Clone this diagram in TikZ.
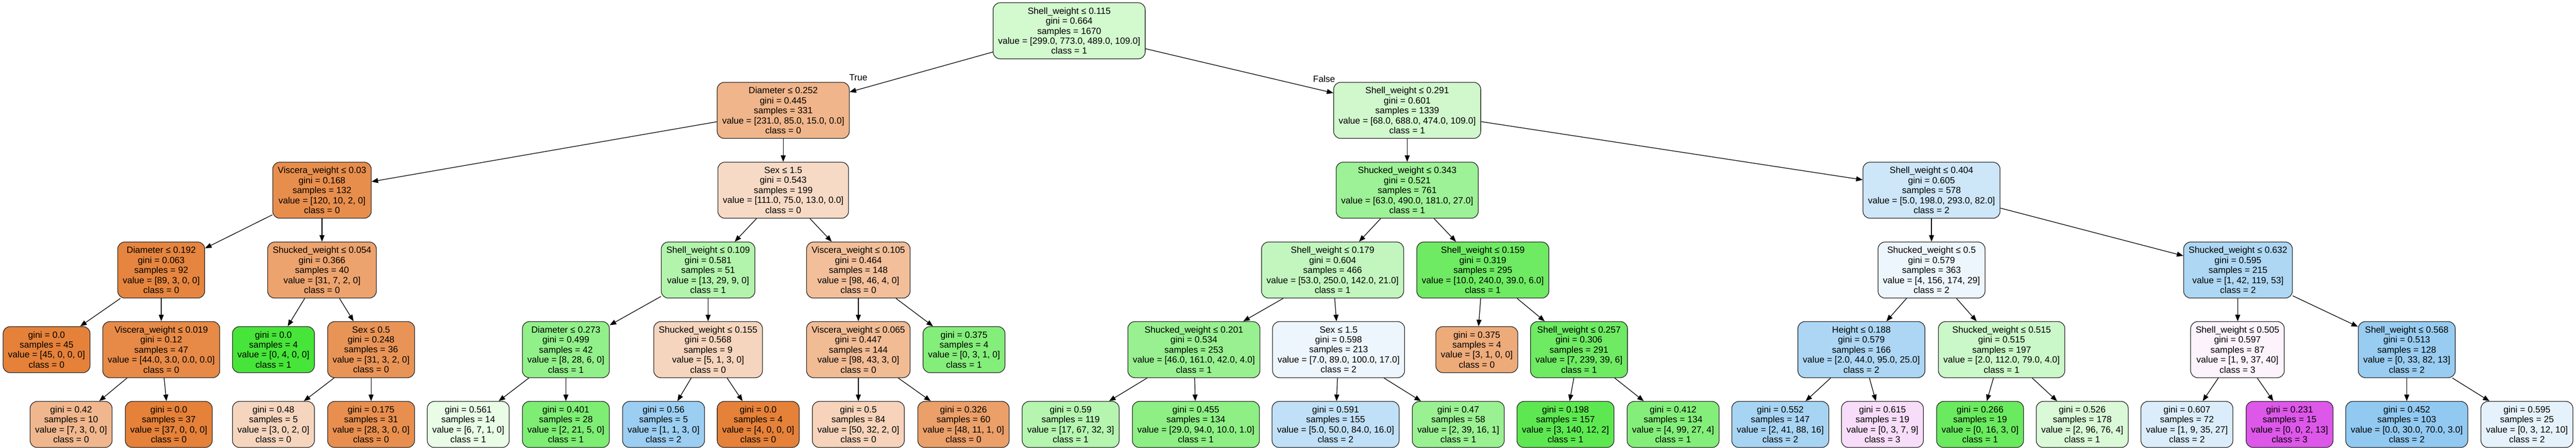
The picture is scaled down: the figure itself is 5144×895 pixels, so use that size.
\documentclass[tikz,border=0pt]{standalone}
\usepackage{fontspec}
\setmainfont{Liberation Sans}
\usepackage{tikz}
\usetikzlibrary{arrows.meta}
\definecolor{cls0}{RGB}{229,129,57}
\definecolor{cls1}{RGB}{71,229,57}
\definecolor{cls2}{RGB}{57,157,229}
\definecolor{cls3}{RGB}{215,57,229}
\newcommand{\treefont}{\fontsize{18}{20}\selectfont}
\tikzset{
	split/.style={draw=black!85, line width=1.3pt, rounded corners=14pt, align=center, inner xsep=10pt, inner ysep=2pt, minimum height=112pt, font=\treefont},
	leaf/.style={split, minimum height=92pt},
	edgelabel/.style={font=\treefont, inner sep=0pt}
}

\begin{document}
\begin{tikzpicture}[x=1pt, y=-1pt, >={Triangle[length=13pt,width=10pt]}, line width=1.3pt]
\useasboundingbox (0,0) rectangle (5144,895);
% level 0 and 1
\node (root) [split, fill=cls1!24] at (2135,61.5) {Shell\_weight ≤ 0.115\\gini = 0.664\\samples = 1670\\value = [299.0, 773.0, 489.0, 109.0]\\class = 1};
\node (d252) [split, fill=cls0!59] at (1564,220.5) {Diameter ≤ 0.252\\gini = 0.445\\samples = 331\\value = [231.0, 85.0, 15.0, 0.0]\\class = 0};
\node (s291) [split, fill=cls1!25] at (2810,220.5) {Shell\_weight ≤ 0.291\\gini = 0.601\\samples = 1339\\value = [68.0, 688.0, 474.0, 109.0]\\class = 1};
% level 2
\node (v03) [split, fill=cls0!90] at (643,380) {Viscera\_weight ≤ 0.03\\gini = 0.168\\samples = 132\\value = [120, 10, 2, 0]\\class = 0};
\node (x15a) [split, fill=cls0!29] at (1564,380) {Sex ≤ 1.5\\gini = 0.543\\samples = 199\\value = [111.0, 75.0, 13.0, 0.0]\\class = 0};
\node (k343) [split, fill=cls1!53] at (2810,380) {Shucked\_weight ≤ 0.343\\gini = 0.521\\samples = 761\\value = [63.0, 490.0, 181.0, 27.0]\\class = 1};
\node (s404) [split, fill=cls2!25] at (3857,380) {Shell\_weight ≤ 0.404\\gini = 0.605\\samples = 578\\value = [5.0, 198.0, 293.0, 82.0]\\class = 2};
% level 3
\node (d192) [split, fill=cls0!97] at (322,539.5) {Diameter ≤ 0.192\\gini = 0.063\\samples = 92\\value = [89, 3, 0, 0]\\class = 0};
\node (k054) [split, fill=cls0!73] at (643,539.5) {Shucked\_weight ≤ 0.054\\gini = 0.366\\samples = 40\\value = [31, 7, 2, 0]\\class = 0};
\node (s109) [split, fill=cls1!42] at (1414,539.5) {Shell\_weight ≤ 0.109\\gini = 0.581\\samples = 51\\value = [13, 29, 9, 0]\\class = 1};
\node (v105) [split, fill=cls0!51] at (1714,539.5) {Viscera\_weight ≤ 0.105\\gini = 0.464\\samples = 148\\value = [98, 46, 4, 0]\\class = 0};
\node (s179) [split, fill=cls1!33] at (2661,539.5) {Shell\_weight ≤ 0.179\\gini = 0.604\\samples = 466\\value = [53.0, 250.0, 142.0, 21.0]\\class = 1};
\node (s159) [split, fill=cls1!79] at (2961,539.5) {Shell\_weight ≤ 0.159\\gini = 0.319\\samples = 295\\value = [10.0, 240.0, 39.0, 6.0]\\class = 1};
\node (k05) [split, fill=cls2!9] at (3857,539.5) {Shucked\_weight ≤ 0.5\\gini = 0.579\\samples = 363\\value = [4, 156, 174, 29]\\class = 2};
\node (k632) [split, fill=cls2!41] at (4469,539.5) {Shucked\_weight ≤ 0.632\\gini = 0.595\\samples = 215\\value = [1, 42, 119, 53]\\class = 2};
% level 4
\node (a45) [leaf, fill=cls0] at (93,698.5) {gini = 0.0\\samples = 45\\value = [45, 0, 0, 0]\\class = 0};
\node (v019) [split, fill=cls0!93] at (322,698.5) {Viscera\_weight ≤ 0.019\\gini = 0.12\\samples = 47\\value = [44.0, 3.0, 0.0, 0.0]\\class = 0};
\node (b4) [leaf, fill=cls1] at (546,698.5) {gini = 0.0\\samples = 4\\value = [0, 4, 0, 0]\\class = 1};
\node (x05) [split, fill=cls0!85] at (741,698.5) {Sex ≤ 0.5\\gini = 0.248\\samples = 36\\value = [31, 3, 2, 0]\\class = 0};
\node (d273) [split, fill=cls1!59] at (1130,698.5) {Diameter ≤ 0.273\\gini = 0.499\\samples = 42\\value = [8, 28, 6, 0]\\class = 1};
\node (k155) [split, fill=cls0!33] at (1414,698.5) {Shucked\_weight ≤ 0.155\\gini = 0.568\\samples = 9\\value = [5, 1, 3, 0]\\class = 0};
\node (v065) [split, fill=cls0!54] at (1714,698.5) {Viscera\_weight ≤ 0.065\\gini = 0.447\\samples = 144\\value = [98, 43, 3, 0]\\class = 0};
\node (c4) [leaf, fill=cls1!67] at (1925,698.5) {gini = 0.375\\samples = 4\\value = [0, 3, 1, 0]\\class = 1};
\node (k201) [split, fill=cls1!56] at (2384,698.5) {Shucked\_weight ≤ 0.201\\gini = 0.534\\samples = 253\\value = [46.0, 161.0, 42.0, 4.0]\\class = 1};
\node (x15b) [split, fill=cls2!9] at (2673,698.5) {Sex ≤ 1.5\\gini = 0.598\\samples = 213\\value = [7.0, 89.0, 100.0, 17.0]\\class = 2};
\node (e4) [leaf, fill=cls0!67] at (2949,698.5) {gini = 0.375\\samples = 4\\value = [3, 1, 0, 0]\\class = 0};
\node (s257) [split, fill=cls1!79] at (3153,698.5) {Shell\_weight ≤ 0.257\\gini = 0.306\\samples = 291\\value = [7, 239, 39, 6]\\class = 1};
\node (h188) [split, fill=cls2!42] at (3717,698.5) {Height ≤ 0.188\\gini = 0.579\\samples = 166\\value = [2.0, 44.0, 95.0, 25.0]\\class = 2};
\node (k515) [split, fill=cls1!28] at (3997,698.5) {Shucked\_weight ≤ 0.515\\gini = 0.515\\samples = 197\\value = [2.0, 112.0, 79.0, 4.0]\\class = 1};
\node (s505) [split, fill=cls3!6] at (4468,698.5) {Shell\_weight ≤ 0.505\\gini = 0.597\\samples = 87\\value = [1, 9, 37, 40]\\class = 3};
\node (s568) [split, fill=cls2!52] at (4806,698.5) {Shell\_weight ≤ 0.568\\gini = 0.513\\samples = 128\\value = [0, 33, 82, 13]\\class = 2};
% level 5
\node (f1) [leaf, fill=cls0!57] at (142,848) {gini = 0.42\\samples = 10\\value = [7, 3, 0, 0]\\class = 0};
\node (f2) [leaf, fill=cls0] at (337,848) {gini = 0.0\\samples = 37\\value = [37, 0, 0, 0]\\class = 0};
\node (f3) [leaf, fill=cls0!33] at (546,848) {gini = 0.48\\samples = 5\\value = [3, 0, 2, 0]\\class = 0};
\node (f4) [leaf, fill=cls0!89] at (741,848) {gini = 0.175\\samples = 31\\value = [28, 3, 0, 0]\\class = 0};
\node (f5) [leaf, fill=cls1!12.5] at (935,848) {gini = 0.561\\samples = 14\\value = [6, 7, 1, 0]\\class = 1};
\node (f6) [leaf, fill=cls1!70] at (1130,848) {gini = 0.401\\samples = 28\\value = [2, 21, 5, 0]\\class = 1};
\node (f7) [leaf, fill=cls2!50] at (1325,848) {gini = 0.56\\samples = 5\\value = [1, 1, 3, 0]\\class = 2};
\node (f8) [leaf, fill=cls0] at (1514,848) {gini = 0.0\\samples = 4\\value = [4, 0, 0, 0]\\class = 0};
\node (f9) [leaf, fill=cls0!35] at (1714,848) {gini = 0.5\\samples = 84\\value = [50, 32, 2, 0]\\class = 0};
\node (f10) [leaf, fill=cls0!76] at (1924,848) {gini = 0.326\\samples = 60\\value = [48, 11, 1, 0]\\class = 0};
\node (f11) [leaf, fill=cls1!40] at (2138,848) {gini = 0.59\\samples = 119\\value = [17, 67, 32, 3]\\class = 1};
\node (f12) [leaf, fill=cls1!62] at (2388,848) {gini = 0.455\\samples = 134\\value = [29.0, 94.0, 10.0, 1.0]\\class = 1};
\node (f13) [leaf, fill=cls2!32] at (2667,848) {gini = 0.591\\samples = 155\\value = [5.0, 50.0, 84.0, 16.0]\\class = 2};
\node (f14) [leaf, fill=cls1!55] at (2912,848) {gini = 0.47\\samples = 58\\value = [2, 39, 16, 1]\\class = 1};
\node (f15) [leaf, fill=cls1!88] at (3126,848) {gini = 0.198\\samples = 157\\value = [3, 140, 12, 2]\\class = 1};
\node (f16) [leaf, fill=cls1!67] at (3341,848) {gini = 0.412\\samples = 134\\value = [4, 99, 27, 4]\\class = 1};
\node (f17) [leaf, fill=cls2!44] at (3555,848) {gini = 0.552\\samples = 147\\value = [2, 41, 88, 16]\\class = 2};
\node (f18) [leaf, fill=cls3!17] at (3759,848) {gini = 0.615\\samples = 19\\value = [0, 3, 7, 9]\\class = 3};
\node (f19) [leaf, fill=cls1!81] at (3954,848) {gini = 0.266\\samples = 19\\value = [0, 16, 3, 0]\\class = 1};
\node (f20) [leaf, fill=cls1!20] at (4158,848) {gini = 0.526\\samples = 178\\value = [2, 96, 76, 4]\\class = 1};
\node (f21) [leaf, fill=cls2!18] at (4367,848) {gini = 0.607\\samples = 72\\value = [1, 9, 35, 27]\\class = 2};
\node (f22) [leaf, fill=cls3!85] at (4572,848) {gini = 0.231\\samples = 15\\value = [0, 0, 2, 13]\\class = 3};
\node (f23) [leaf, fill=cls2!55] at (4806,848) {gini = 0.452\\samples = 103\\value = [0.0, 30.0, 70.0, 3.0]\\class = 2};
\node (f24) [leaf, fill=cls2!13] at (5046,848) {gini = 0.595\\samples = 25\\value = [0, 3, 12, 10]\\class = 2};
% edge labels
\node (truelbl) [edgelabel] at (1714,155) {True};
\node (falselbl) [edgelabel] at (2644,157.5) {False};
% edges
\draw[->] (root) -- (d252); \draw[->] (root) -- (s291);
\draw[->] (d252) -- (v03); \draw[->] (d252) -- (x15a);
\draw[->] (s291) -- (k343); \draw[->] (s291) -- (s404);
\draw[->] (v03) -- (d192); \draw[->] (v03) -- (k054);
\draw[->] (x15a) -- (s109); \draw[->] (x15a) -- (v105);
\draw[->] (k343) -- (s179); \draw[->] (k343) -- (s159);
\draw[->] (s404) -- (k05); \draw[->] (s404) -- (k632);
\draw[->] (d192) -- (a45); \draw[->] (d192) -- (v019);
\draw[->] (k054) -- (b4); \draw[->] (k054) -- (x05);
\draw[->] (s109) -- (d273); \draw[->] (s109) -- (k155);
\draw[->] (v105) -- (v065); \draw[->] (v105) -- (c4);
\draw[->] (s179) -- (k201); \draw[->] (s179) -- (x15b);
\draw[->] (s159) -- (e4); \draw[->] (s159) -- (s257);
\draw[->] (k05) -- (h188); \draw[->] (k05) -- (k515);
\draw[->] (k632) -- (s505); \draw[->] (k632) -- (s568);
\draw[->] (v019) -- (f1); \draw[->] (v019) -- (f2);
\draw[->] (x05) -- (f3); \draw[->] (x05) -- (f4);
\draw[->] (d273) -- (f5); \draw[->] (d273) -- (f6);
\draw[->] (k155) -- (f7); \draw[->] (k155) -- (f8);
\draw[->] (v065) -- (f9); \draw[->] (v065) -- (f10);
\draw[->] (k201) -- (f11); \draw[->] (k201) -- (f12);
\draw[->] (x15b) -- (f13); \draw[->] (x15b) -- (f14);
\draw[->] (s257) -- (f15); \draw[->] (s257) -- (f16);
\draw[->] (h188) -- (f17); \draw[->] (h188) -- (f18);
\draw[->] (k515) -- (f19); \draw[->] (k515) -- (f20);
\draw[->] (s505) -- (f21); \draw[->] (s505) -- (f22);
\draw[->] (s568) -- (f23); \draw[->] (s568) -- (f24);
\end{tikzpicture}
\end{document}
